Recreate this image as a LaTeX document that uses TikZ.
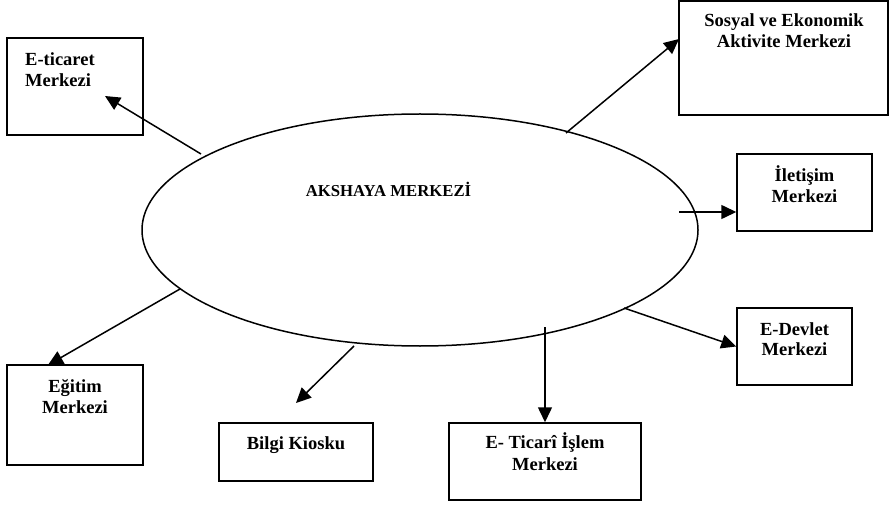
\documentclass[tikz,border=0pt]{standalone}
\usepackage{fontspec}
\setmainfont{Liberation Serif}
\usetikzlibrary{shapes.geometric,arrows.meta}
\begin{document}
\begin{tikzpicture}[x=1pt,y=-1pt,
  box/.style={draw,line width=1.5pt,rectangle,inner sep=0pt},
  lbl/.style={inner sep=0pt,anchor=base,font=\fontsize{18.5}{22}\selectfont\bfseries},
  arr/.style={line width=1.5pt,-{Triangle[length=15pt,width=14pt]}},
  ell/.style={draw,ellipse,line width=1.5pt,inner sep=0pt}]
\useasboundingbox (0,0) rectangle (889,505);
% ellipse
\node[ell,minimum width=556pt,minimum height=232pt] (ak) at (420,230) {};
\node[lbl,font=\fontsize{16.7}{20}\selectfont\bfseries] (akt) at (388.5,197) {AKSHAYA MERKEZİ};
% boxes
\node[box,minimum width=136pt,minimum height=97pt] (b1) at (75,86.5) {};
\node[lbl,anchor=base west] (t1a) at (25,66) {E-ticaret};
\node[lbl,anchor=base west] (t1b) at (25,87) {Merkezi};
\node[box,minimum width=209pt,minimum height=114pt] (b2) at (783.5,58) {};
\node[lbl] (t2a) at (784,27) {Sosyal ve Ekonomik};
\node[lbl] (t2b) at (784,48) {Aktivite Merkezi};
\node[box,minimum width=135pt,minimum height=77pt] (b3) at (804.5,192.5) {};
\node[lbl] (t3a) at (804.5,182) {İletişim};
\node[lbl] (t3b) at (804.5,203) {Merkezi};
\node[box,minimum width=136pt,minimum height=100pt] (b4) at (75,415) {};
\node[lbl] (t4a) at (75,392) {Eğitim};
\node[lbl] (t4b) at (75,413) {Merkezi};
\node[box,minimum width=154pt,minimum height=58pt] (b5) at (296,452) {};
\node[lbl] (t5a) at (296,449) {Bilgi Kiosku};
\node[box,minimum width=192pt,minimum height=77pt] (b6) at (545,461.5) {};
\node[lbl] (t6a) at (545,448) {E- Ticarî İşlem};
\node[lbl] (t6b) at (545,470) {Merkezi};
\node[box,minimum width=115pt,minimum height=77pt] (b7) at (794.5,346.5) {};
\node[lbl] (t7a) at (794.5,335) {E-Devlet};
\node[lbl] (t7b) at (794.5,355) {Merkezi};
% connector endpoints
\coordinate (s1) at (201,154); \coordinate (e1) at (105,96);
\coordinate (s2) at (566,133); \coordinate (e2) at (679,39);
\coordinate (s3) at (679,212);
\coordinate (s4) at (180,289); \coordinate (e4) at (48,365);
\coordinate (s5) at (354,346); \coordinate (e5) at (296,403);
\coordinate (s6) at (545,327);
\coordinate (s7) at (624,308);
% arrows
\draw[arr] (s1) -- (e1);
\draw[arr] (s2) -- (e2);
\draw[arr] (s3) -- (b3.west |- s3);
\draw[arr] (s4) -- (e4);
\draw[arr] (s5) -- (e5);
\draw[arr] (s6) -- (b6.north);
\draw[arr] (s7) -- (b7.west);
\end{tikzpicture}
\end{document}
